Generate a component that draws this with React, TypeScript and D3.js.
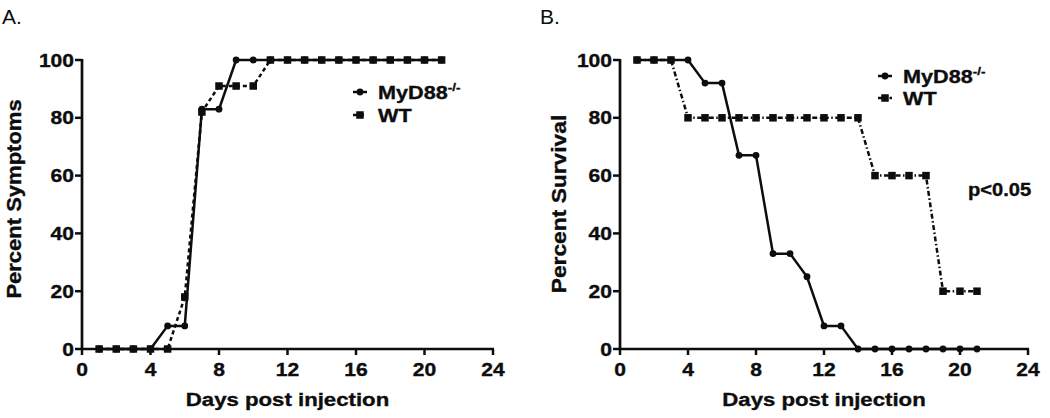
import React from "react";
import * as d3 from "d3";

const days = [1, 2, 3, 4, 5, 6, 7, 8, 9, 10, 11, 12, 13, 14, 15, 16, 17, 18, 19, 20, 21];
const symptomsMyD88 = [0, 0, 0, 0, 8, 8, 83, 83, 100, 100, 100, 100, 100, 100, 100, 100, 100, 100, 100, 100, 100];
const symptomsWT = [0, 0, 0, 0, 0, 18, 82, 91, 91, 91, 100, 100, 100, 100, 100, 100, 100, 100, 100, 100, 100];
const survivalMyD88 = [100, 100, 100, 100, 92, 92, 67, 67, 33, 33, 25, 8, 8, 0, 0, 0, 0, 0, 0, 0, 0];
const survivalWT = [100, 100, 100, 80, 80, 80, 80, 80, 80, 80, 80, 80, 80, 80, 60, 60, 60, 60, 20, 20, 20];
const xTicks = [0, 4, 8, 12, 16, 20, 24];
const yTicks = [0, 20, 40, 60, 80, 100];
const seriesNames = ["MyD88", "WT"];

const FONT = "'Liberation Sans', Arial, Helvetica, sans-serif";
const INK = "#0d0d0d";

type PanelProps = {
  left: number;
  right: number;
  letter: string;
  yTitle: string;
  yTitleX: number;
  yTitleY: number;
  yTitleScale: number;
  myd: number[];
  wt: number[];
  wtDash: string;
  legendX: number;
  legendY1: number;
  legendY2: number;
  pText?: string;
};

function SText({ x, y, sx = 1.15, size = 18, anchor = "start", weight = "bold", children }: any) {
  return (
    <text
      transform={`translate(${x},${y}) scale(${sx},1)`}
      textAnchor={anchor}
      fontFamily={FONT}
      fontWeight={weight}
      fontSize={size}
      fill={INK}
      stroke={INK}
      strokeWidth={0.35}
    >
      {children}
    </text>
  );
}

function Panel(p: PanelProps) {
  const x = d3.scaleLinear().domain([0, 24]).range([p.left, p.right]);
  const y = d3.scaleLinear().domain([0, 100]).range([349, 60]);
  const line = d3
    .line<number>()
    .x((_, i) => x(days[i]))
    .y((d) => y(d));
  const sq = 7.5;
  const lx1 = p.legendX;
  const lx2 = p.legendX + 14;
  const lxm = (lx1 + lx2) / 2;
  return (
    <g>
      <text x={p.left - 80} y={24} fontFamily={FONT} fontSize={21} fill={INK}>
        {p.letter}
      </text>
      {/* axes */}
      <line x1={x(0)} x2={x(0)} y1={y(100) - 1} y2={y(0)} stroke={INK} strokeWidth={2.7} />
      <line x1={x(0) - 1} x2={x(24) + 1} y1={y(0)} y2={y(0)} stroke={INK} strokeWidth={2.7} />
      {yTicks.map((t) => (
        <g key={"y" + t}>
          <line x1={x(0) - 7} x2={x(0)} y1={y(t)} y2={y(t)} stroke={INK} strokeWidth={2.5} />
          <SText x={x(0) - 8} y={y(t) + 6.5} anchor="end" size={18} sx={1.17}>
            {t}
          </SText>
        </g>
      ))}
      {xTicks.map((t) => (
        <g key={"x" + t}>
          <line x1={x(t)} x2={x(t)} y1={y(0)} y2={y(0) + 6} stroke={INK} strokeWidth={2.5} />
          <SText x={x(t)} y={375.5} anchor="middle" size={18} sx={1.17}>
            {t}
          </SText>
        </g>
      ))}
      <SText x={(x(0) + x(24)) / 2} y={406} anchor="middle" size={18.5} sx={1.2}>
        Days post injection
      </SText>
      <text
        transform={`translate(${p.yTitleX},${p.yTitleY}) rotate(-90) scale(${p.yTitleScale},1.05)`}
        textAnchor="middle"
        fontFamily={FONT}
        fontWeight="bold"
        fontSize={20}
        fill={INK}
        stroke={INK}
        strokeWidth={0.35}
      >
        {p.yTitle}
      </text>
      {/* series */}
      <path d={line(p.myd) || ""} fill="none" stroke={INK} strokeWidth={2.5} />
      {p.myd.map((v, i) => (
        <circle key={"c" + i} cx={x(days[i])} cy={y(v)} r={3.4} fill={INK} />
      ))}
      <path d={line(p.wt) || ""} fill="none" stroke={INK} strokeWidth={2.5} strokeDasharray={p.wtDash} />
      {p.wt.map((v, i) => (
        <rect key={"s" + i} x={x(days[i]) - sq / 2} y={y(v) - sq / 2} width={sq} height={sq} fill={INK} />
      ))}
      {/* legend */}
      <line x1={lx1} x2={lx2} y1={p.legendY1} y2={p.legendY1} stroke={INK} strokeWidth={2.5} />
      <circle cx={lxm} cy={p.legendY1} r={3.4} fill={INK} />
      <SText x={lx2 + 11} y={p.legendY1 + 7} size={18.5} sx={1.17}>
        {seriesNames[0]}
        <tspan fontSize={11.5} dy={-8}>-/-</tspan>
      </SText>
      <line x1={lx1} x2={lx2} y1={p.legendY2} y2={p.legendY2} stroke={INK} strokeWidth={2.5} strokeDasharray={p.wtDash} />
      <rect x={lxm - sq / 2} y={p.legendY2 - sq / 2} width={sq} height={sq} fill={INK} />
      <SText x={lx2 + 11} y={p.legendY2 + 7} size={18.5} sx={1.17}>
        {seriesNames[1]}
      </SText>
      {p.pText && (
        <SText x={968} y={196} size={17.5} sx={1.15}>
          {p.pText}
        </SText>
      )}
    </g>
  );
}

export default function App() {
  return (
    <svg
      width={1050}
      height={418}
      style={{ position: "absolute", left: 0, top: 0, background: "#fff" }}
    >
      <rect width={1050} height={418} fill="#fff" />
      <Panel
        left={82}
        right={493}
        letter="A."
        yTitle="Percent Symptoms"
        yTitleX={21}
        yTitleY={199}
        yTitleScale={1.1}
        myd={symptomsMyD88}
        wt={symptomsWT}
        wtDash="4,3"
        legendX={353}
        legendY1={92}
        legendY2={115}
      />
      <Panel
        left={620}
        right={1028}
        letter="B."
        yTitle="Percent Survival"
        yTitleX={566}
        yTitleY={204}
        yTitleScale={1.14}
        myd={survivalMyD88}
        wt={survivalWT}
        wtDash="5,2.5,1.5,2.5"
        legendX={878}
        legendY1={76}
        legendY2={98}
        pText="p<0.05"
      />
    </svg>
  );
}
